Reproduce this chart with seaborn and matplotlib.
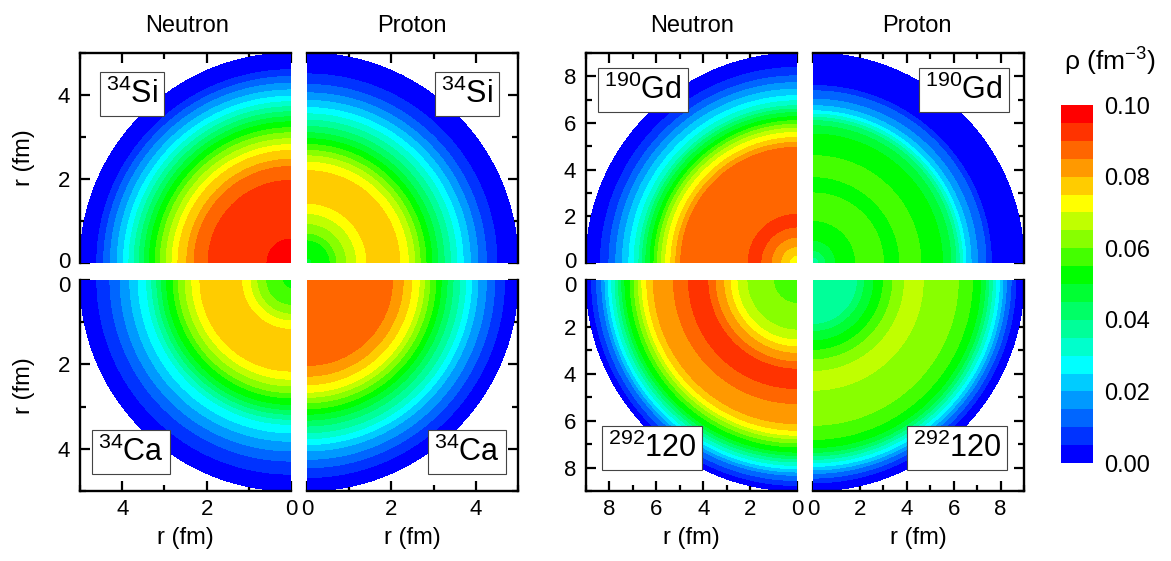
import numpy as np
import matplotlib
matplotlib.use('Agg')
import matplotlib.pyplot as plt
from matplotlib.colors import ListedColormap, BoundaryNorm
from matplotlib.ticker import MultipleLocator
from matplotlib.transforms import ScaledTranslation
import seaborn as sns

sns.set_style('ticks', rc={'axes.edgecolor': 'black', 'xtick.color': 'black',
                           'ytick.color': 'black', 'text.color': 'black',
                           'axes.labelcolor': 'black'})
plt.rcParams['font.family'] = ['Liberation Sans', 'DejaVu Sans']
plt.rcParams['mathtext.fontset'] = 'custom'
plt.rcParams['mathtext.rm'] = 'Liberation Sans'
plt.rcParams['mathtext.it'] = 'Liberation Sans:italic'
plt.rcParams['mathtext.default'] = 'regular'

# ---------------- data (radial density profiles) -------------
level_colors = ['#0000FF', '#0033FF', '#0066FF', '#0099FF', '#00CCFF', '#00FFFF',
                '#00FFCC', '#00FF99', '#00FF66', '#00FF33', '#00FF00', '#44FF00',
                '#88FF00', '#C0FF00', '#FFFF00', '#FFCC00', '#FF9900', '#FF6600',
                '#FF3300', '#FF0000']
levels = np.linspace(0.0, 0.10, 21)
cbar_ticks = [0.00, 0.02, 0.04, 0.06, 0.08, 0.10]

column_titles = ['Neutron', 'Proton', 'Neutron', 'Proton']
nuclei = [r'$^{34}$Si', r'$^{34}$Ca', r'$^{190}$Gd', r'$^{292}$120']

# 34Si neutron
r_si_n = [0, 0.57, 1.97, 2.30, 2.47, 2.68, 2.82, 2.96, 3.10, 3.22, 3.36, 3.48, 3.60,
          3.72, 3.84, 3.97, 4.12, 4.28, 4.44, 4.60, 5.0]
rho_si_n = [0.0965, 0.095, 0.090, 0.085, 0.080, 0.075, 0.070, 0.065, 0.060, 0.055,
            0.050, 0.045, 0.040, 0.035, 0.030, 0.025, 0.020, 0.015, 0.010, 0.005, 0.002]
# 34Si proton
r_si_p = [0, 0.12, 0.55, 0.71, 0.94, 1.18, 1.42, 1.80, 2.20, 2.40, 2.55, 2.68, 2.82,
          2.96, 3.10, 3.25, 3.40, 3.55, 3.70, 3.87, 4.05, 4.25, 4.50, 5.0]
rho_si_p = [0.048, 0.050, 0.055, 0.060, 0.065, 0.070, 0.075, 0.079, 0.075, 0.070,
            0.065, 0.060, 0.055, 0.050, 0.045, 0.040, 0.035, 0.030, 0.025, 0.020,
            0.015, 0.010, 0.005, 0.0015]
# 34Ca neutron
r_ca_n = [0, 0.20, 0.60, 0.81, 0.97, 1.17, 1.70, 2.16, 2.35, 2.51, 2.67, 2.79, 2.95,
          3.07, 3.18, 3.30, 3.42, 3.62, 3.82, 4.05, 4.29, 4.60, 5.0]
rho_ca_n = [0.053, 0.055, 0.060, 0.065, 0.070, 0.075, 0.079, 0.075, 0.070, 0.065,
            0.060, 0.055, 0.050, 0.045, 0.040, 0.035, 0.030, 0.025, 0.020, 0.015,
            0.010, 0.005, 0.002]
# 34Ca proton
r_ca_p = [0, 1.0, 2.03, 2.28, 2.48, 2.66, 2.78, 2.91, 3.05, 3.18, 3.32, 3.46, 3.62,
          3.76, 3.90, 4.05, 4.25, 4.45, 4.68, 5.0]
rho_ca_p = [0.0885, 0.0885, 0.085, 0.080, 0.075, 0.070, 0.065, 0.060, 0.055, 0.050,
            0.045, 0.040, 0.035, 0.030, 0.025, 0.020, 0.015, 0.010, 0.005, 0.003]
# 190Gd neutron
r_gd_n = [0, 0.33, 0.70, 1.10, 1.54, 1.80, 2.08, 3.50, 4.96, 5.17, 5.38, 5.60, 5.78,
          5.95, 6.10, 6.27, 6.45, 6.60, 6.74, 6.95, 7.17, 7.45, 7.73, 8.02, 8.38, 9.0]
rho_gd_n = [0.073, 0.075, 0.080, 0.085, 0.090, 0.0915, 0.090, 0.0875, 0.085, 0.080,
            0.075, 0.070, 0.065, 0.060, 0.055, 0.050, 0.045, 0.040, 0.035, 0.030,
            0.025, 0.020, 0.015, 0.010, 0.005, 0.0015]
# 190Gd proton
r_gd_p = [0, 0.26, 0.54, 0.97, 1.82, 2.40, 3.00, 3.40, 3.70, 4.20, 4.60, 5.53, 5.88,
          6.10, 6.24, 6.38, 6.52, 6.74, 7.02, 7.38, 7.60, 9.0]
rho_gd_p = [0.038, 0.040, 0.045, 0.050, 0.055, 0.057, 0.055, 0.054, 0.055, 0.057,
            0.055, 0.050, 0.045, 0.040, 0.035, 0.030, 0.025, 0.020, 0.015, 0.010,
            0.005, 0.001]
# 292-120 neutron
r_120_n = [0, 1.00, 2.14, 2.56, 2.85, 3.13, 3.49, 3.80, 4.20, 4.63, 5.27, 6.13, 6.41,
           6.62, 6.77, 6.95, 7.12, 7.34, 7.48, 7.62, 7.76, 7.91, 8.05, 8.19, 8.33,
           8.55, 8.76, 9.0]
rho_120_n = [0.057, 0.060, 0.065, 0.070, 0.075, 0.080, 0.085, 0.090, 0.092, 0.090,
             0.085, 0.080, 0.075, 0.070, 0.065, 0.060, 0.055, 0.050, 0.045, 0.040,
             0.035, 0.030, 0.025, 0.020, 0.015, 0.010, 0.005, 0.002]
# 292-120 proton
r_120_p = [0, 1.60, 1.90, 2.20, 2.60, 3.00, 3.40, 3.90, 4.30, 4.70, 6.20, 6.80, 7.15,
           7.35, 7.50, 7.65, 7.80, 7.95, 8.10, 8.25, 8.45, 8.65, 9.0]
rho_120_p = [0.038, 0.038, 0.040, 0.045, 0.050, 0.055, 0.060, 0.065, 0.067, 0.065,
             0.060, 0.055, 0.050, 0.045, 0.040, 0.035, 0.030, 0.025, 0.020, 0.015,
             0.010, 0.005, 0.002]

# ---------------- figure ------------------------------------------------------------
W, H = 1171, 561
fig = plt.figure(figsize=(W / 100, H / 100), dpi=100)
cmap = ListedColormap(sns.color_palette(level_colors))
norm = BoundaryNorm(levels, cmap.N)


def rect(x0, y0, x1, y1):
    return [x0 / W, 1 - y1 / H, (x1 - x0) / W, (y1 - y0) / H]


def panel(box, r_prof, rho_prof, R, flip_x, flip_y, side, label, label_xy):
    ax = fig.add_axes(rect(*box))
    t = np.linspace(0, np.pi / 2, 181)
    rr = np.linspace(0, R, 500)
    T, RR = np.meshgrid(t, rr)
    X, Y = RR * np.cos(T), RR * np.sin(T)
    Z = np.interp(RR, r_prof, rho_prof)
    cs = ax.contourf(X, Y, Z, levels=levels, cmap=cmap, norm=norm)
    ax.set_xlim((R, 0) if flip_x else (0, R))
    ax.set_ylim((R, 0) if flip_y else (0, R))
    ax.set_facecolor('none')
    for a in (ax.xaxis, ax.yaxis):
        a.set_major_locator(MultipleLocator(2))
        a.set_minor_locator(MultipleLocator(1))
    xs = 'top' if not flip_y else 'bottom'
    ys = 'left' if flip_x else 'right'
    for s in ['left', 'right', 'top', 'bottom']:
        ax.spines[s].set_visible(s in (xs, ys))
        ax.spines[s].set_linewidth(1.7)
        ax.spines[s].set_zorder(5)
    ax.tick_params(which='both', direction='in', width=1.6, labelsize=16,
                   top=(xs == 'top'), bottom=(xs == 'bottom'),
                   left=(ys == 'left'), right=(ys == 'right'),
                   labeltop=False, labelbottom=(xs == 'bottom'),
                   labelleft=(ys == 'left' and side == 'outer'), labelright=False)
    ax.tick_params(axis='y', pad=7)
    ax.tick_params(axis='x', pad=6)
    ax.tick_params(which='major', length=7)
    ax.tick_params(which='minor', length=4)
    fig.text(label_xy[0] / W, 1 - label_xy[1] / H, label, ha='center', va='center',
             fontsize=22,
             bbox=dict(boxstyle='square,pad=0.2', fc='white', ec='#444444', lw=0.8),
             zorder=10)
    return ax, cs


axA, cs = panel((80, 53, 291, 263), r_si_n, rho_si_n, 5, True, False, 'outer', nuclei[0], (132, 94))
axB, _ = panel((307, 53, 518, 263), r_si_p, rho_si_p, 5, False, False, 'inner', nuclei[0], (467, 94))
axC, _ = panel((80, 280, 291, 491), r_ca_n, rho_ca_n, 5, True, True, 'outer', nuclei[1], (131, 452))
axD, _ = panel((307, 280, 518, 491), r_ca_p, rho_ca_p, 5, False, True, 'inner', nuclei[1], (467, 452))
axE, _ = panel((586, 53, 797, 263), r_gd_n, rho_gd_n, 9, True, False, 'outer', nuclei[2], (643, 90))
axF, _ = panel((813, 53, 1024, 263), r_gd_p, rho_gd_p, 9, False, False, 'inner', nuclei[2], (964, 90))
axG, _ = panel((586, 280, 797, 491), r_120_n, rho_120_n, 9, True, True, 'outer', nuclei[3], (652, 448))
axH, _ = panel((813, 280, 1024, 491), r_120_p, rho_120_p, 9, False, True, 'inner', nuclei[3], (957, 448))

for ax in (axA, axC):
    ax.set_ylabel('r (fm)', fontsize=17)
    ax.yaxis.set_label_coords(-0.215, 0.5)
for ax in (axC, axD, axG, axH):
    ax.set_xlabel('r (fm)', fontsize=17)
    ax.xaxis.set_label_coords(0.5, -0.17)

for x, t in zip([187, 412, 692, 917], column_titles):
    fig.text(x / W, 1 - 26 / H, t, ha='center', va='center', fontsize=17)

cax = fig.add_axes(rect(1061, 105, 1093, 463))
cb = fig.colorbar(cs, cax=cax, ticks=cbar_ticks, format='%.2f')
cb.outline.set_visible(False)
cax.minorticks_off()
cax.tick_params(which='both', length=0, labelsize=17, pad=8)
fig.text(1110 / W, 1 - 62 / H, r'ρ (fm$^{-3}$)', ha='center', va='center', fontsize=19)

# nudge the two "0" labels that meet at the panel gap apart slightly
fig.canvas.draw()
for ax, dy in ((axA, 2), (axE, 2), (axC, -3), (axG, -3)):
    for tk in ax.yaxis.get_major_ticks():
        if abs(tk.get_loc()) < 1e-9:
            tk.label1.set_transform(tk.label1.get_transform()
                                    + ScaledTranslation(0, dy / 72, fig.dpi_scale_trans))

fig.savefig('out.png', dpi=100)
